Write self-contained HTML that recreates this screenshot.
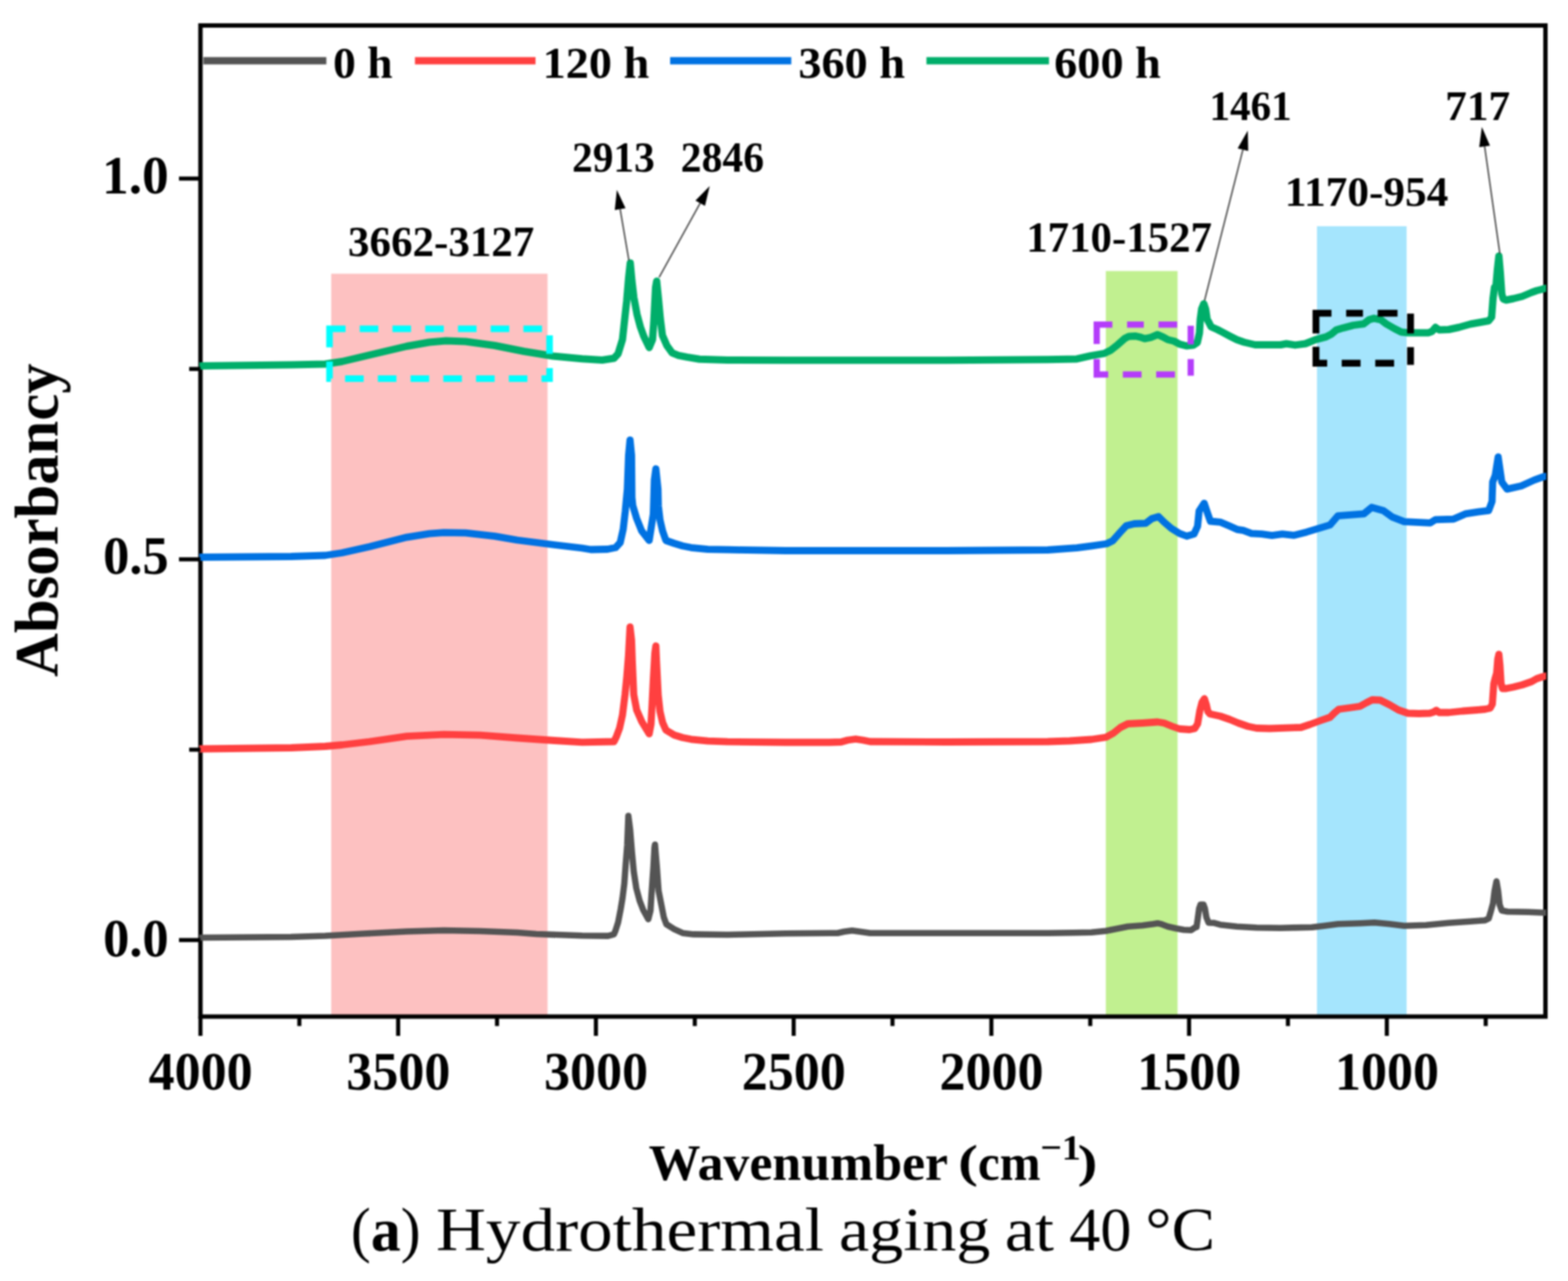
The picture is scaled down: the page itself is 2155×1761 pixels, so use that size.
<!DOCTYPE html>
<html lang="en">
<head>
<meta charset="utf-8">
<title>FTIR spectra - Hydrothermal aging at 40 °C</title>
<style>
html,body{margin:0;padding:0;background:#fff;}
body{width:2155px;height:1761px;overflow:hidden;}
svg{display:block;font-family:"Liberation Serif","DejaVu Serif",serif;filter:blur(1px);}
text{fill:#000;}
</style>
</head>
<body>
<svg width="2155" height="1761" viewBox="0 0 2155 1761">
<rect width="2155" height="1761" fill="#fff"/>
<rect x="455.2" y="376.3" width="297.3" height="1021.2" fill="#FDC1C1"/>
<rect x="1519.8" y="372.6" width="98.6" height="1024.9" fill="#C1F090"/>
<rect x="1810.0" y="311.0" width="123.2" height="1086.5" fill="#A5E5FD"/>
<rect x="275.5" y="35.0" width="1848.5" height="1362.5" fill="none" stroke="#000" stroke-width="6"/>
<clipPath id="plotclip"><rect x="273.9" y="38" width="1851.1" height="1356.5"/></clipPath>
<g clip-path="url(#plotclip)">
<path d="M272.0,1289.0 L276.0,1289.0 L400.0,1288.0 L447.0,1286.5 L500.0,1283.5 L559.0,1280.5 L610.0,1279.0 L660.0,1280.0 L711.0,1282.0 L737.0,1284.0 L800.0,1286.3 L835.7,1286.6 L843.8,1284.3 L846.0,1279.0 L849.5,1268.0 L853.0,1250.0 L855.5,1235.0 L858.0,1215.0 L860.0,1187.0 L862.0,1162.0 L863.6,1121.5 L866.0,1140.0 L868.5,1171.0 L871.0,1198.0 L874.5,1221.0 L879.0,1238.0 L884.0,1251.0 L891.0,1263.6 L894.0,1252.0 L895.5,1228.0 L898.0,1192.0 L899.5,1165.0 L900.2,1161.0 L902.8,1192.2 L905.1,1224.4 L908.5,1241.7 L912.3,1261.0 L915.8,1270.5 L926.7,1277.4 L938.2,1282.7 L953.2,1284.4 L1000.0,1285.0 L1080.0,1283.3 L1140.0,1282.8 L1151.0,1282.8 L1160.0,1280.8 L1171.0,1279.3 L1182.0,1280.8 L1196.0,1282.8 L1300.0,1282.8 L1440.0,1282.8 L1475.0,1282.3 L1500.0,1281.7 L1520.0,1279.7 L1535.0,1276.7 L1550.0,1273.7 L1570.0,1272.2 L1585.0,1270.2 L1591.0,1269.2 L1597.0,1270.7 L1605.0,1273.7 L1616.0,1276.2 L1627.0,1278.2 L1637.0,1278.7 L1643.0,1274.7 L1644.5,1274.5 L1646.5,1260.0 L1648.0,1249.0 L1650.0,1243.5 L1654.0,1243.5 L1656.0,1249.0 L1658.0,1261.0 L1661.0,1268.5 L1668.0,1268.7 L1677.0,1271.2 L1700.0,1273.7 L1727.0,1275.2 L1760.0,1275.7 L1803.0,1274.7 L1820.0,1272.7 L1839.0,1270.2 L1870.0,1269.2 L1889.0,1268.2 L1910.0,1270.2 L1930.0,1272.7 L1960.0,1271.7 L1991.0,1268.7 L2020.0,1266.7 L2041.0,1265.2 L2046.0,1262.7 L2049.0,1252.7 L2052.0,1241.5 L2054.0,1225.0 L2056.7,1211.5 L2059.0,1225.0 L2061.0,1243.5 L2064.0,1251.7 L2072.0,1253.2 L2100.0,1253.7 L2123.0,1254.7 L2127.0,1254.2" fill="none" stroke="#545454" stroke-width="8.6" stroke-linejoin="round" stroke-linecap="butt"/>
<path d="M272.0,1029.5 L276.0,1029.5 L400.0,1028.0 L447.0,1026.0 L470.0,1024.0 L508.0,1019.5 L559.0,1012.1 L610.0,1009.6 L660.0,1010.6 L711.0,1014.5 L762.0,1018.0 L800.0,1020.3 L843.8,1019.5 L847.0,1013.0 L851.5,1001.0 L855.5,983.0 L859.0,955.0 L861.5,930.0 L863.8,901.0 L865.9,862.0 L868.0,880.0 L869.0,909.0 L871.0,955.0 L875.0,976.0 L882.0,992.0 L892.2,1008.8 L894.7,995.5 L896.2,969.0 L897.9,934.5 L900.0,897.6 L901.4,888.0 L902.3,909.0 L904.6,955.2 L907.1,978.2 L910.6,993.2 L915.2,1003.6 L926.7,1010.5 L938.2,1014.0 L949.8,1016.3 L972.8,1018.6 L1000.0,1019.7 L1080.0,1020.5 L1140.0,1020.5 L1156.0,1020.0 L1165.0,1017.5 L1176.0,1016.0 L1186.0,1017.5 L1196.0,1019.5 L1300.0,1020.0 L1440.0,1019.5 L1470.0,1018.5 L1500.0,1016.5 L1520.0,1013.5 L1530.0,1008.0 L1540.0,1000.0 L1550.0,995.0 L1570.0,994.0 L1591.0,992.5 L1600.0,994.0 L1611.0,998.5 L1621.0,1002.0 L1635.0,1003.0 L1642.0,1001.5 L1646.0,995.0 L1649.0,977.0 L1652.0,965.5 L1655.3,960.5 L1658.0,969.0 L1660.0,978.0 L1663.0,981.5 L1677.0,984.5 L1690.0,989.0 L1702.0,994.0 L1715.0,998.5 L1727.0,1001.0 L1745.0,1001.5 L1788.0,1000.0 L1800.0,996.0 L1815.0,990.5 L1828.0,986.0 L1834.0,980.0 L1840.0,975.0 L1855.0,973.0 L1869.0,971.0 L1878.0,966.0 L1886.0,962.0 L1897.0,962.5 L1910.0,969.0 L1922.0,976.0 L1935.0,980.5 L1950.0,981.0 L1965.0,980.5 L1970.0,979.0 L1974.0,976.5 L1978.0,979.5 L1991.0,979.5 L2010.0,977.5 L2030.0,976.0 L2041.0,975.0 L2048.0,973.5 L2051.0,968.0 L2053.0,940.0 L2055.0,932.0 L2057.0,925.0 L2058.5,906.0 L2060.0,899.5 L2061.5,915.0 L2063.0,940.0 L2065.0,946.5 L2070.0,946.5 L2080.0,944.5 L2092.0,941.5 L2105.0,937.0 L2112.0,933.0 L2118.0,931.0 L2123.0,929.5 L2127.0,929.0" fill="none" stroke="#FF4040" stroke-width="9.8" stroke-linejoin="round" stroke-linecap="butt"/>
<path d="M272.0,766.0 L276.0,766.0 L400.0,765.0 L447.0,763.5 L470.0,760.0 L508.0,751.5 L559.0,738.6 L590.0,733.6 L610.0,732.1 L640.0,732.6 L680.0,737.1 L711.0,742.5 L762.0,749.0 L800.0,753.5 L812.0,755.5 L835.0,755.0 L846.0,752.8 L852.4,745.9 L856.5,727.5 L859.3,703.3 L862.2,672.2 L863.9,626.0 L865.9,604.8 L868.0,626.0 L868.5,683.7 L869.7,695.2 L874.9,712.5 L881.8,729.8 L892.2,743.0 L897.9,706.7 L899.3,660.0 L901.4,644.5 L904.3,672.2 L904.8,695.2 L907.1,714.8 L910.6,729.8 L915.2,743.0 L926.7,747.0 L938.2,750.5 L949.8,752.8 L972.8,755.1 L1000.0,755.7 L1080.0,757.0 L1300.0,757.0 L1440.0,756.0 L1480.0,753.2 L1501.2,750.4 L1520.9,747.5 L1529.4,743.3 L1539.3,732.0 L1547.8,722.8 L1559.0,720.0 L1574.6,719.3 L1583.0,713.0 L1592.2,710.1 L1600.0,717.9 L1609.9,726.4 L1621.2,733.4 L1631.0,737.0 L1641.0,734.1 L1645.9,723.5 L1648.0,702.4 L1655.0,691.8 L1660.0,706.6 L1663.5,716.5 L1677.7,717.9 L1689.0,722.8 L1700.2,727.8 L1708.7,729.2 L1720.0,733.4 L1734.1,734.1 L1748.2,736.2 L1762.4,734.1 L1777.9,735.9 L1795.8,731.4 L1828.0,721.6 L1838.7,709.1 L1874.4,706.4 L1885.2,697.5 L1901.3,701.9 L1913.8,710.9 L1929.9,717.1 L1965.6,718.9 L1972.8,714.4 L1997.8,713.6 L2014.0,706.4 L2031.8,703.7 L2046.0,701.9 L2050.6,689.4 L2051.5,662.6 L2055.0,653.6 L2059.0,628.2 L2064.0,662.6 L2071.2,672.4 L2090.8,668.0 L2108.7,659.9 L2121.2,655.4 L2123.0,655.0 L2127.0,654.5" fill="none" stroke="#0072E2" stroke-width="9.8" stroke-linejoin="round" stroke-linecap="butt"/>
<path d="M272.0,503.0 L276.0,503.0 L400.0,501.5 L447.0,500.5 L470.0,497.0 L508.0,488.0 L559.0,476.0 L590.0,470.5 L613.0,468.5 L640.0,469.5 L680.0,475.0 L720.0,483.0 L760.0,489.5 L800.0,493.2 L827.6,495.0 L843.8,492.5 L849.5,486.3 L855.5,466.7 L858.4,440.2 L861.3,413.7 L863.9,382.6 L866.2,361.5 L868.5,386.1 L871.2,409.1 L875.5,432.2 L880.1,449.4 L884.7,462.1 L892.2,477.7 L896.8,466.7 L898.5,443.7 L901.0,395.0 L902.5,386.5 L904.8,409.1 L907.5,437.9 L910.4,461.0 L916.4,474.8 L923.8,485.2 L932.5,488.6 L944.0,490.9 L961.3,493.8 L1000.0,495.0 L1080.0,495.2 L1300.0,495.2 L1440.0,494.2 L1480.0,493.4 L1498.8,489.2 L1517.6,485.9 L1527.0,481.2 L1536.5,473.6 L1545.9,465.2 L1551.5,462.4 L1560.0,461.9 L1566.6,463.3 L1573.2,465.6 L1581.6,463.8 L1591.0,460.0 L1598.6,463.3 L1605.2,467.0 L1613.6,469.0 L1621.2,473.2 L1630.6,475.5 L1640.0,474.6 L1645.6,470.8 L1648.5,457.6 L1649.6,438.8 L1651.5,424.7 L1654.5,417.5 L1657.0,425.0 L1659.0,438.8 L1661.6,443.5 L1664.5,449.2 L1673.0,453.0 L1680.0,456.7 L1691.0,462.5 L1700.0,467.0 L1710.0,470.5 L1725.0,474.0 L1760.0,474.0 L1768.0,472.5 L1780.0,474.4 L1794.1,472.5 L1808.2,466.8 L1822.4,463.1 L1829.9,459.3 L1836.5,453.6 L1845.9,450.8 L1860.0,447.1 L1874.1,445.2 L1881.6,439.5 L1888.2,437.6 L1897.6,439.5 L1905.2,445.2 L1916.5,451.8 L1925.9,456.5 L1935.3,457.4 L1963.5,457.4 L1968.2,455.5 L1972.9,450.0 L1978.0,453.5 L1991.0,453.0 L2005.0,450.0 L2021.0,445.5 L2035.0,443.0 L2046.0,441.0 L2050.0,436.0 L2052.0,410.0 L2054.0,395.0 L2056.0,393.0 L2058.0,370.0 L2060.0,352.0 L2062.0,375.0 L2064.0,404.0 L2066.0,411.0 L2070.0,412.5 L2080.0,410.5 L2092.0,407.5 L2105.0,402.0 L2112.0,399.5 L2118.0,398.0 L2123.0,396.5 L2127.0,396.0" fill="none" stroke="#00AE6A" stroke-width="10" stroke-linejoin="round" stroke-linecap="butt"/>
</g>
<path d="M452.9,452 L452.9,520.6 L755.3,520.6 L755.3,452 Z" fill="none" stroke="#00FFFF" stroke-width="9" stroke-dasharray="25.5 19.5" stroke-linejoin="miter"/>
<g stroke="#B43CFA" stroke-width="8.6" fill="none"><line x1="1503" y1="446.2" x2="1528.8" y2="446.2"/><line x1="1549" y1="446.2" x2="1572" y2="446.2"/><line x1="1592.2" y1="446.2" x2="1617.9" y2="446.2"/><line x1="1503" y1="514.8" x2="1523.1" y2="514.8"/><line x1="1543.2" y1="514.8" x2="1568.9" y2="514.8"/><line x1="1589" y1="514.8" x2="1614.8" y2="514.8"/><line x1="1507.3" y1="442" x2="1507.3" y2="472.9"/><line x1="1507.3" y1="493.6" x2="1507.3" y2="519.1"/><line x1="1636.5" y1="447.8" x2="1636.5" y2="473.5"/><line x1="1636.5" y1="493.6" x2="1636.5" y2="516.5"/></g>
<g stroke="#000" stroke-width="9.4" fill="none"><line x1="1804" y1="430.6" x2="1829.9" y2="430.6"/><line x1="1850.1" y1="430.6" x2="1873.2" y2="430.6"/><line x1="1893.4" y1="430.6" x2="1920.7" y2="430.6"/><line x1="1804" y1="499.3" x2="1824" y2="499.3"/><line x1="1844" y1="499.3" x2="1869.9" y2="499.3"/><line x1="1890.1" y1="499.3" x2="1916" y2="499.3"/><line x1="1808.6" y1="426" x2="1808.6" y2="458.4"/><line x1="1808.6" y1="476.7" x2="1808.6" y2="504"/><line x1="1938.6" y1="431.1" x2="1938.6" y2="458.4"/><line x1="1938.6" y1="477.2" x2="1938.6" y2="501.6"/></g>
<g stroke="#000" stroke-width="5.6"><line x1="275.5" y1="1397.5" x2="275.5" y2="1424"/><line x1="411.4" y1="1397.5" x2="411.4" y2="1410.5"/><line x1="547.2" y1="1397.5" x2="547.2" y2="1424"/><line x1="683.1" y1="1397.5" x2="683.1" y2="1410.5"/><line x1="819.0" y1="1397.5" x2="819.0" y2="1424"/><line x1="954.9" y1="1397.5" x2="954.9" y2="1410.5"/><line x1="1090.8" y1="1397.5" x2="1090.8" y2="1424"/><line x1="1226.6" y1="1397.5" x2="1226.6" y2="1410.5"/><line x1="1362.5" y1="1397.5" x2="1362.5" y2="1424"/><line x1="1498.4" y1="1397.5" x2="1498.4" y2="1410.5"/><line x1="1634.2" y1="1397.5" x2="1634.2" y2="1424"/><line x1="1770.1" y1="1397.5" x2="1770.1" y2="1410.5"/><line x1="1906.0" y1="1397.5" x2="1906.0" y2="1424"/><line x1="2041.9" y1="1397.5" x2="2041.9" y2="1410.5"/><line x1="246" y1="245.5" x2="275.5" y2="245.5"/><line x1="260" y1="507.2" x2="275.5" y2="507.2"/><line x1="246" y1="768.9" x2="275.5" y2="768.9"/><line x1="260" y1="1030.6" x2="275.5" y2="1030.6"/><line x1="246" y1="1292.3" x2="275.5" y2="1292.3"/></g>
<line x1="279.5" y1="83.5" x2="448.5" y2="83.5" stroke="#545454" stroke-width="9.8" stroke-linecap="butt"/>
<text x="457.7" y="106.5" font-size="61" font-weight="bold" text-anchor="start" textLength="81.8" lengthAdjust="spacingAndGlyphs">0 h</text>
<line x1="570.3" y1="83.5" x2="736" y2="83.5" stroke="#FF4040" stroke-width="9.8" stroke-linecap="butt"/>
<text x="745.8" y="106.5" font-size="61" font-weight="bold" text-anchor="start" textLength="146.6" lengthAdjust="spacingAndGlyphs">120 h</text>
<line x1="921" y1="83.5" x2="1087.5" y2="83.5" stroke="#0072E2" stroke-width="9.8" stroke-linecap="butt"/>
<text x="1097.2" y="106.5" font-size="61" font-weight="bold" text-anchor="start" textLength="146.7" lengthAdjust="spacingAndGlyphs">360 h</text>
<line x1="1273.3" y1="83.5" x2="1441.7" y2="83.5" stroke="#00AE6A" stroke-width="9.8" stroke-linecap="butt"/>
<text x="1448.8" y="106.5" font-size="61" font-weight="bold" text-anchor="start" textLength="146.7" lengthAdjust="spacingAndGlyphs">600 h</text>
<text x="275.7" y="1498.2" font-size="74.5" font-weight="bold" text-anchor="middle" textLength="142.8" lengthAdjust="spacingAndGlyphs">4000</text>
<text x="547.5" y="1498.2" font-size="74.5" font-weight="bold" text-anchor="middle" textLength="142.8" lengthAdjust="spacingAndGlyphs">3500</text>
<text x="819.2" y="1498.2" font-size="74.5" font-weight="bold" text-anchor="middle" textLength="142.8" lengthAdjust="spacingAndGlyphs">3000</text>
<text x="1091.0" y="1498.2" font-size="74.5" font-weight="bold" text-anchor="middle" textLength="142.8" lengthAdjust="spacingAndGlyphs">2500</text>
<text x="1362.7" y="1498.2" font-size="74.5" font-weight="bold" text-anchor="middle" textLength="142.8" lengthAdjust="spacingAndGlyphs">2000</text>
<text x="1634.5" y="1498.2" font-size="74.5" font-weight="bold" text-anchor="middle" textLength="142.8" lengthAdjust="spacingAndGlyphs">1500</text>
<text x="1906.2" y="1498.2" font-size="74.5" font-weight="bold" text-anchor="middle" textLength="142.8" lengthAdjust="spacingAndGlyphs">1000</text>
<text x="140.3" y="266.1" font-size="74.5" font-weight="bold" text-anchor="start" textLength="91.57" lengthAdjust="spacingAndGlyphs">1.0</text>
<text x="141.7" y="788.9" font-size="74.5" font-weight="bold" text-anchor="start" textLength="90.13" lengthAdjust="spacingAndGlyphs">0.5</text>
<text x="141.7" y="1314.7" font-size="74.5" font-weight="bold" text-anchor="start" textLength="90.13" lengthAdjust="spacingAndGlyphs">0.0</text>
<text x="478.3" y="352.3" font-size="59.5" font-weight="bold" text-anchor="start" textLength="256" lengthAdjust="spacingAndGlyphs">3662-3127</text>
<text x="786.3" y="235.5" font-size="59.5" font-weight="bold" text-anchor="start" textLength="113.5" lengthAdjust="spacingAndGlyphs">2913</text>
<text x="935.5" y="235.5" font-size="59.5" font-weight="bold" text-anchor="start" textLength="114.5" lengthAdjust="spacingAndGlyphs">2846</text>
<text x="1410.4" y="345.8" font-size="59" font-weight="bold" text-anchor="start" textLength="255.4" lengthAdjust="spacingAndGlyphs">1710-1527</text>
<text x="1662.2" y="164.5" font-size="57.5" font-weight="bold" text-anchor="start" textLength="113" lengthAdjust="spacingAndGlyphs">1461</text>
<text x="1765.7" y="283.3" font-size="57.5" font-weight="bold" text-anchor="start" textLength="224.8" lengthAdjust="spacingAndGlyphs">1170-954</text>
<text x="1986.3" y="164.5" font-size="57.5" font-weight="bold" text-anchor="start" textLength="89.2" lengthAdjust="spacingAndGlyphs">717</text>
<line x1="864.4" y1="358.3" x2="852.3" y2="287.5" stroke="#4a4a4a" stroke-width="2.0"/><polygon points="847.8,260.9 859.7,286.3 844.9,288.8" fill="#000"/>
<line x1="905.9" y1="381.2" x2="962.3" y2="279.3" stroke="#4a4a4a" stroke-width="2.0"/><polygon points="975.4,255.7 968.9,283.0 955.8,275.7" fill="#000"/>
<line x1="1655.5" y1="413.0" x2="1708.2" y2="205.8" stroke="#4a4a4a" stroke-width="2.0"/><polygon points="1714.9,179.6 1715.5,207.6 1701.0,203.9" fill="#000"/>
<line x1="2061.4" y1="349.0" x2="2040.4" y2="201.2" stroke="#4a4a4a" stroke-width="2.0"/><polygon points="2036.6,174.5 2047.8,200.2 2033.0,202.3" fill="#000"/>
<text transform="translate(79.3,929.5) rotate(-90)" x="-0.99" y="0" font-size="84" font-weight="bold" textLength="430.86" lengthAdjust="spacingAndGlyphs">Absorbancy</text>
<text font-weight="bold"><tspan x="891.48" y="1622.0" font-size="70" textLength="411.5" lengthAdjust="spacingAndGlyphs">Wavenumber</tspan> <tspan x="1316.66" y="1617.8" font-size="64" textLength="27.31" lengthAdjust="spacingAndGlyphs">(</tspan><tspan x="1344.07" y="1622.0" font-size="70" textLength="86.06" lengthAdjust="spacingAndGlyphs">cm</tspan><tspan x="1429.53" y="1593.6" font-size="49.5" textLength="56.01" lengthAdjust="spacingAndGlyphs">−1</tspan><tspan x="1480.94" y="1617.8" font-size="64" textLength="27.31" lengthAdjust="spacingAndGlyphs">)</tspan></text>
<text font-weight="normal"><tspan x="482.34" y="1719.0" font-size="85" textLength="95.64" lengthAdjust="spacingAndGlyphs">(<tspan font-weight='bold'>a</tspan>)</tspan> <tspan x="599.26" y="1719.0" font-size="85" textLength="533.04" lengthAdjust="spacingAndGlyphs">Hydrothermal</tspan> <tspan x="1152.99" y="1719.0" font-size="85" textLength="208.24" lengthAdjust="spacingAndGlyphs">aging</tspan> <tspan x="1381.0" y="1719.0" font-size="85" textLength="67.48" lengthAdjust="spacingAndGlyphs">at</tspan> <tspan x="1469.59" y="1719.0" font-size="85" textLength="85.43" lengthAdjust="spacingAndGlyphs">40</tspan> <tspan x="1574.39" y="1719.0" font-size="85" textLength="95.55" lengthAdjust="spacingAndGlyphs">°C</tspan></text>
</svg>
</body>
</html>
